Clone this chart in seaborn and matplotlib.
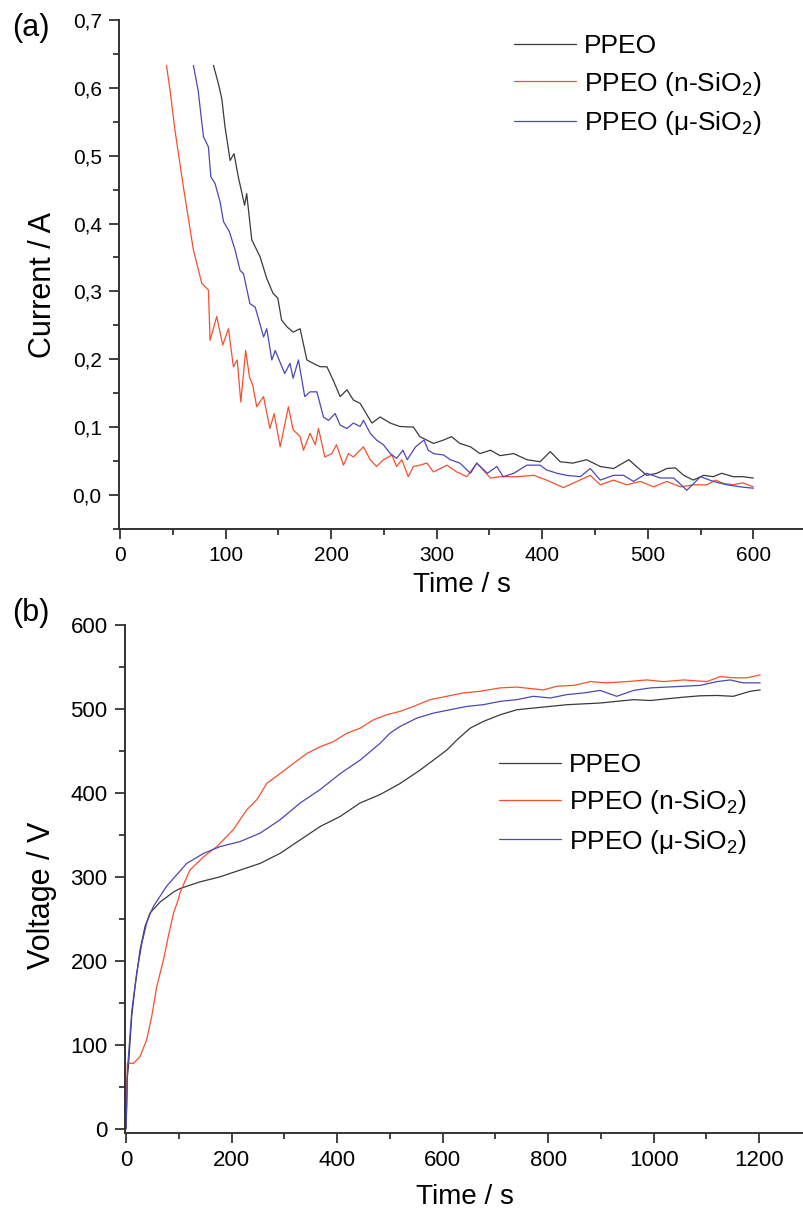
import matplotlib
matplotlib.use('Agg')
import matplotlib.pyplot as plt
import seaborn as sns
from matplotlib.ticker import MultipleLocator, FuncFormatter

# (a) current vs time
red_t = [44, 47.4, 52, 60, 69.5, 77.4, 83.7, 85.3, 91.6, 97.3,
         102.7, 107.4, 111, 114.4, 119, 122.6, 125.7, 129.5, 135.9, 142,
         146, 151.7, 159.5, 164, 170.6, 173.8, 180, 185, 188, 194,
         200.6, 205, 211.7, 216.4, 221, 230.6, 237, 243, 249.6, 257.5,
         262, 267, 273, 278, 284, 290.7, 297, 309.7, 319, 328.6,
         338, 351, 360, 376, 392, 404, 420, 433, 445.5, 455,
         467.6, 480, 493, 505.5, 518, 531, 543.4, 556, 564, 572,
         581, 590, 600]
red_i = [0.633, 0.596, 0.538, 0.454, 0.361, 0.312, 0.302, 0.228, 0.263, 0.221,
         0.245, 0.189, 0.199, 0.137, 0.213, 0.174, 0.162, 0.130, 0.145, 0.098,
         0.120, 0.071, 0.130, 0.096, 0.086, 0.066, 0.091, 0.074, 0.098, 0.056,
         0.061, 0.074, 0.044, 0.061, 0.056, 0.071, 0.052, 0.042, 0.052, 0.059,
         0.042, 0.052, 0.027, 0.042, 0.044, 0.047, 0.034, 0.044, 0.034, 0.027,
         0.047, 0.025, 0.027, 0.027, 0.029, 0.022, 0.011, 0.020, 0.029, 0.015,
         0.022, 0.015, 0.020, 0.012, 0.020, 0.012, 0.015, 0.015, 0.022, 0.017,
         0.015, 0.018, 0.012]

black_t = [88.5, 93.2, 96.4, 99.5, 104.3, 108, 112, 118, 120, 124.8,
           132.7, 139, 145, 149.5, 153, 158, 164, 170.6, 177, 183,
           189.6, 196, 202, 208.5, 215, 221, 227.5, 238.6, 246.4, 256,
           265, 278, 284, 297, 306.5, 314, 322, 332, 341, 351,
           360, 373, 385.5, 398, 407.6, 417, 429, 442, 455, 467.6,
           482, 493, 499, 508.5, 518, 526, 534, 543, 553, 562,
           570, 581, 590, 600]
black_i = [0.633, 0.606, 0.584, 0.542, 0.493, 0.503, 0.469, 0.427, 0.444, 0.376,
           0.351, 0.319, 0.297, 0.290, 0.258, 0.248, 0.240, 0.245, 0.199, 0.194,
           0.189, 0.189, 0.169, 0.145, 0.155, 0.140, 0.135, 0.106, 0.115, 0.106,
           0.101, 0.100, 0.086, 0.076, 0.081, 0.086, 0.076, 0.071, 0.061, 0.066,
           0.058, 0.061, 0.052, 0.049, 0.064, 0.049, 0.047, 0.052, 0.042, 0.039,
           0.052, 0.037, 0.029, 0.032, 0.039, 0.040, 0.029, 0.022, 0.029, 0.027,
           0.032, 0.027, 0.027, 0.025]

blue_t = [69.5, 74, 79, 83.7, 86, 90, 94.8, 98, 103.6, 109,
          113.7, 117, 123, 128, 136, 139, 143.8, 147, 156, 161,
          164, 169, 175, 180, 186.5, 192.7, 197.5, 203.8, 208.5, 215,
          221, 227.5, 230.6, 237, 243, 249.6, 256, 262, 268, 272,
          280, 288, 292, 297, 306.5, 313, 322, 332, 338, 348,
          357, 363, 373, 385.5, 398, 404, 414, 423, 436, 445.5,
          455, 467.6, 477, 486.5, 499, 512, 524.6, 537, 550, 562,
          575, 587.6, 600]
blue_i = [0.633, 0.596, 0.528, 0.513, 0.469, 0.459, 0.432, 0.403, 0.388, 0.361,
          0.331, 0.326, 0.282, 0.277, 0.233, 0.245, 0.199, 0.213, 0.179, 0.194,
          0.172, 0.199, 0.145, 0.152, 0.152, 0.115, 0.110, 0.120, 0.103, 0.098,
          0.106, 0.101, 0.110, 0.091, 0.081, 0.074, 0.061, 0.054, 0.066, 0.052,
          0.071, 0.081, 0.066, 0.061, 0.059, 0.052, 0.047, 0.032, 0.047, 0.032,
          0.042, 0.027, 0.032, 0.044, 0.044, 0.037, 0.032, 0.029, 0.027, 0.039,
          0.022, 0.029, 0.029, 0.020, 0.032, 0.025, 0.025, 0.007, 0.027, 0.020,
          0.015, 0.012, 0.010]

# (b) voltage vs time
black_vt = [0, 2, 4.4, 10.7, 17, 26.5, 36, 45.5, 64.5, 90,
            102, 140, 178, 216, 254, 292, 330, 368, 406, 443.6,
            481.5, 519, 557, 582.6, 608, 627, 652, 677, 709, 740.7,
            772, 804, 835.5, 867, 898.6, 930, 962, 994, 1025, 1057,
            1088, 1120, 1151, 1183, 1202]
black_v = [0, 60, 74, 134, 169, 213, 241, 257, 270, 282,
           286, 294, 300, 308, 316, 328, 344, 360, 372, 388,
           398, 411, 427, 439, 451, 463, 477, 485, 493, 499,
           501, 503, 505, 506, 507, 509, 511, 510, 512, 514,
           515.6, 516, 515, 521, 522.6]

blue_vt = [0, 3, 11, 20, 30, 39, 45.5, 52, 77, 115,
           147, 178, 216, 254, 292, 330, 368, 406, 443.6, 481.5,
           500, 519, 551, 582.6, 614, 646, 677, 709, 740.7, 772,
           804, 835.5, 867, 898.6, 930, 962, 994, 1025, 1057, 1088,
           1120, 1145, 1170, 1202]
blue_v = [0, 74, 141, 185, 221, 245, 256, 265, 289, 316,
          328, 336, 342, 352, 368, 388, 404, 423, 439, 459,
          471, 479, 489, 495, 499, 503, 505, 509, 511, 515,
          513, 517, 519, 522, 515, 522, 525, 526, 527, 528,
          532.5, 534.5, 531, 531]

red_vt = [0, 2.5, 14, 26.5, 39, 48.7, 58, 70.8, 80, 90,
          99, 102, 121, 147, 172, 203, 229, 248, 267, 292,
          317, 343, 368, 393, 418.5, 443.6, 469, 494, 519, 545,
          576, 608, 639, 671, 709, 740.7, 791, 817, 848.6, 880,
          911, 949, 987, 1019, 1057, 1101, 1126, 1151, 1177, 1202]
red_v = [0, 78, 78, 86, 106, 134, 169, 201, 229, 257,
         273, 281, 308, 324, 336, 356, 380, 392, 411.5, 423,
         435, 447, 455, 461, 471, 477, 487, 493, 497, 503,
         511, 515, 519, 521, 525, 526, 522.6, 527, 528, 532.5,
         531, 532.5, 534.5, 532.5, 534.5, 532.5, 538.5, 537, 537, 540.5]

labels = ['PPEO', 'PPEO (n-SiO$_\\mathregular{2}$)', 'PPEO (μ-SiO$_\\mathregular{2}$)']
colors = ['#3a3a3a', '#f5502e', '#4a48b8']

sns.set_style('ticks')
plt.rcParams['font.family'] = ['Liberation Sans', 'DejaVu Sans']
plt.rcParams['mathtext.fontset'] = 'custom'
plt.rcParams['mathtext.rm'] = 'Liberation Sans'
plt.rcParams['text.color'] = 'black'
plt.rcParams['axes.labelcolor'] = 'black'

fig = plt.figure(figsize=(8.04, 12.09), dpi=100)
ax1 = fig.add_axes([0.148, 0.5625, 0.852, 0.421])
ax2 = fig.add_axes([0.1555, 0.0629, 0.8445, 0.4202])

top = [(black_t, black_i), (red_t, red_i), (blue_t, blue_i)]
bottom = [(black_vt, black_v), (red_vt, red_v), (blue_vt, blue_v)]

for (x, y), lab, c in zip(top, labels, colors):
    sns.lineplot(x=x, y=y, ax=ax1, color=c, lw=0.9, label=lab,
                 estimator=None, sort=False)
for (x, y), lab, c in zip(bottom, labels, colors):
    sns.lineplot(x=x, y=y, ax=ax2, color=c, lw=0.9, label=lab,
                 estimator=None, sort=False)

ax1.set_xlim(-1, 648)
ax1.set_ylim(-0.05, 0.7)
ax1.xaxis.set_major_locator(MultipleLocator(100))
ax1.xaxis.set_minor_locator(MultipleLocator(50))
ax1.yaxis.set_major_locator(MultipleLocator(0.1))
ax1.yaxis.set_minor_locator(MultipleLocator(0.05))
ax1.yaxis.set_major_formatter(FuncFormatter(lambda v, p: f'{v:.1f}'.replace('.', ',')))

ax2.set_xlim(-2, 1285)
ax2.set_ylim(-5, 600)
ax2.xaxis.set_major_locator(MultipleLocator(200))
ax2.xaxis.set_minor_locator(MultipleLocator(100))
ax2.yaxis.set_major_locator(MultipleLocator(100))
ax2.yaxis.set_minor_locator(MultipleLocator(50))

for ax, ts in ((ax1, 15), (ax2, 16)):
    sns.despine(ax=ax)
    for s in ('left', 'bottom'):
        ax.spines[s].set_linewidth(1.4)
        ax.spines[s].set_color('#333333')
    ax.tick_params(which='major', direction='out', length=7.5, width=1.3,
                   color='#333333', labelcolor='black', labelsize=ts, pad=5)
    ax.tick_params(which='minor', direction='out', length=4, width=1.3,
                   color='#333333')
    ax.set_xlabel('Time / s', fontsize=20)

ax1.set_ylabel('Current / A', fontsize=22)
ax2.set_ylabel('Voltage / V', fontsize=22)
ax1.yaxis.set_label_coords(-0.089, 0.479)
ax2.yaxis.set_label_coords(-0.1, 0.467)
ax1.xaxis.set_label_coords(0.5, -0.085)
ax2.xaxis.set_label_coords(0.5, -0.1)

ax1.legend(loc='upper left', bbox_to_anchor=(0.577, 0.972), frameon=False,
           fontsize=19, handlelength=2.35, handletextpad=0.3,
           labelspacing=0.43, borderpad=0, borderaxespad=0)
ax2.legend(loc='upper left', bbox_to_anchor=(0.551, 0.748), frameon=False,
           fontsize=19, handlelength=2.35, handletextpad=0.3,
           labelspacing=0.43, borderpad=0, borderaxespad=0)

fig.text(12 / 804, 1 - 28 / 1209, '(a)', fontsize=22, va='center')
fig.text(12 / 804, 1 - 613 / 1209, '(b)', fontsize=22, va='center')

fig.savefig('out.png', dpi=100)
